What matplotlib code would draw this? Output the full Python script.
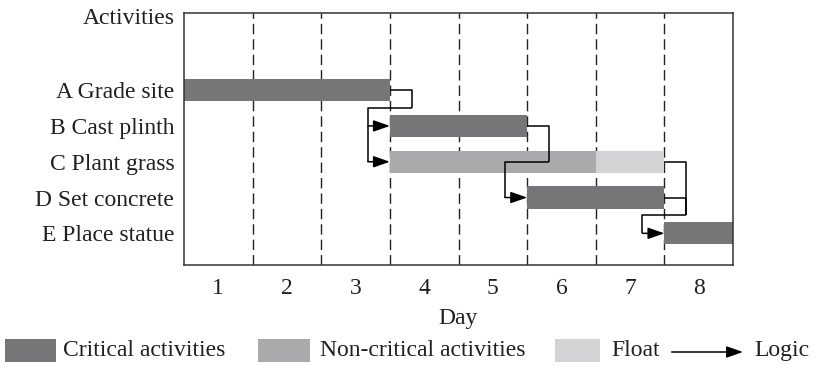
import matplotlib
matplotlib.use("Agg")
import matplotlib.pyplot as plt
from matplotlib.patches import Rectangle, FancyArrowPatch

plt.rcParams["font.family"] = ["Liberation Serif", "DejaVu Serif"]

# Activity schedule (start day, duration in days, float in days)
activities = ["A Grade site", "B Cast plinth", "C Plant grass", "D Set concrete", "E Place statue"]
start_day = [1, 4, 4, 6, 8]
duration = [3, 2, 3, 2, 1]
float_days = [0, 0, 1, 0, 0]
critical = [True, True, False, True, True]
days = [1, 2, 3, 4, 5, 6, 7, 8]

# Logic links: (predecessors, successors) as activity indices
links = [([0], [1, 2]), ([1], [3]), ([2, 3], [4])]

CRIT = "#767678"
NONCRIT = "#aaaaac"
FLOAT = "#d3d3d5"
TEXT = "#231f20"
FS = 17

fig = plt.figure(figsize=(8.17, 3.69), dpi=100)
ax = fig.add_axes([0.2252, 0.2818, 0.672, 0.682])

n = len(activities)
row = {i: n - 1 - i for i in range(n)}
bar_h = 0.62

ax.set_xlim(days[0] - 0.5, days[-1] + 0.5)
ax.set_ylim(-0.885, 6.145)

# dashed day separators
for d in days[:-1]:
    ax.axvline(d + 0.5, color="#222222", lw=1.0, ls=(0, (7.5, 3.6)), zorder=1)

# bars
for i in range(n):
    x0 = start_day[i] - 0.5
    ax.barh(row[i], duration[i], left=x0, height=bar_h,
            color=CRIT if critical[i] else NONCRIT, zorder=2, linewidth=0)
    if float_days[i]:
        ax.barh(row[i], float_days[i], left=x0 + duration[i], height=bar_h,
                color=FLOAT, zorder=2, linewidth=0)

# logic connectors
gap = 0.32
head = "-|>,head_length=1.0,head_width=0.35"
line_kw = dict(color="black", lw=1.1, zorder=3, solid_capstyle="butt")
arrow_kw = dict(arrowstyle=head, mutation_scale=10,
                color="black", lw=1.1, shrinkA=0, shrinkB=0)
for preds, succs in links:
    ends = [start_day[p] - 0.5 + duration[p] + float_days[p] for p in preds]
    xr = max(ends) + gap
    xl = min(start_day[s] - 0.5 for s in succs) - gap
    low_pred = min(row[p] for p in preds)
    top_succ = max(row[s] for s in succs)
    low_succ = min(row[s] for s in succs)
    ye = (low_pred + top_succ) / 2
    for p, e in zip(preds, ends):
        ax.plot([e, xr, xr], [row[p], row[p], ye], **line_kw)
    ax.plot([xr, xl, xl], [ye, ye, low_succ], **line_kw)
    for s in succs:
        ax.annotate("", xy=(start_day[s] - 0.5, row[s]), xytext=(xl, row[s]),
                    arrowprops=arrow_kw, zorder=4)

# axis labels and ticks
ax.set_xticks(days)
ax.set_xticklabels([str(d) for d in days], fontsize=FS, color=TEXT)
ax.set_yticks([row[i] for i in range(n)] + [6.07])
ax.set_yticklabels(activities + ["Activities"], fontsize=FS, color=TEXT)
ax.tick_params(axis="both", length=0)
ax.tick_params(axis="x", pad=9)
ax.tick_params(axis="y", pad=7)
ax.set_xlabel("Day", fontsize=FS, color=TEXT, labelpad=7)
for sp in ax.spines.values():
    sp.set_color("#333333")
    sp.set_linewidth(1.1)

# legend row drawn in figure pixels
W, H = 817, 369
def fx(px):
    return px / W
def fy(py):
    return 1 - py / H

legend_items = [
    (5, 56, CRIT, 63, "Critical activities"),
    (258, 310, NONCRIT, 320, "Non-critical activities"),
    (555, 600, FLOAT, 611, "Float"),
]
for x0, x1, col, tx, label in legend_items:
    fig.patches.append(Rectangle((fx(x0), fy(361.7)), fx(x1) - fx(x0), fy(339) - fy(361.7),
                                 transform=fig.transFigure, color=col, linewidth=0))
    fig.text(fx(tx), fy(350.5), label, fontsize=FS, color=TEXT, va="center", ha="left")

fig.add_artist(FancyArrowPatch(
    (fx(671.7), fy(352)), (fx(743), fy(352)), transform=fig.transFigure,
    arrowstyle=head, mutation_scale=10,
    color="black", lw=1.1, shrinkA=0, shrinkB=0))
fig.text(fx(754), fy(350.5), "Logic", fontsize=FS, color=TEXT, va="center", ha="left")

fig.savefig("out.png", dpi=100)
